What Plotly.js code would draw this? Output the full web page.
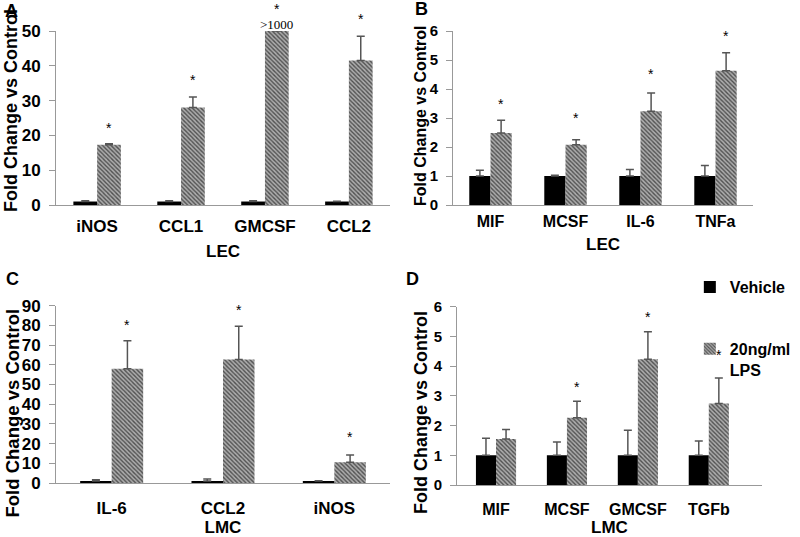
<!DOCTYPE html>
<html>
<head>
<meta charset="utf-8">
<script src="https://cdn.plot.ly/plotly-3.0.1.min.js"></script>
<style>html,body{margin:0;padding:0;background:#fff}#chart{width:800px;height:537px}</style>
</head>
<body>
<div id="chart"></div>
<script>
// Panel A (LEC)
const catsA = ["iNOS", "CCL1", "GMCSF", "CCL2"];
const vehA = [1, 1, 1, 1];
const vehErrA = [0.2, 0.2, 0.2, 0.1];
const lpsA = [17.3, 28, 50, 41.5];
const lpsErrA = [0.3, 3, 0, 7];
const starA = [22, 36, 56.4, 53.5];

// Panel B (LEC)
const catsB = ["MIF", "MCSF", "IL-6", "TNFa"];
const vehB = [1, 1, 1, 1];
const vehErrB = [0.2, 0.03, 0.22, 0.36];
const lpsB = [2.48, 2.08, 3.23, 4.63];
const lpsErrB = [0.44, 0.17, 0.63, 0.62];
const starB = [3.5, 3.0, 4.52, 5.84];

// Panel C (LMC)
const catsC = ["IL-6", "CCL2", "iNOS"];
const vehC = [1, 1, 1];
const vehErrC = [0.6, 1.0, 0.1];
const lpsC = [58, 62.7, 10.5];
const lpsErrC = [14.2, 16.9, 3.7];
const starC = [80.3, 87.8, 23.4];

// Panel D (LMC)
const catsD = ["MIF", "MCSF", "GMCSF", "TGFb"];
const vehD = [1, 1, 1, 1];
const vehErrD = [0.57, 0.45, 0.84, 0.48];
const lpsD = [1.55, 2.26, 4.23, 2.74];
const lpsErrD = [0.32, 0.56, 0.93, 0.86];
const starD = [null, 3.3, 5.64, 4.38];

const seriesNames = ["Vehicle", "20ng/ml<br>LPS"];
const yTitle = "Fold Change vs Control";
const xTitles = ["LEC", "LEC", "LMC", "LMC"];
const gtMarker = ">1000";
const gtMarkerY = 51.8;

const BARGAP = 0.434;
const FONT = "Liberation Sans, Arial, sans-serif";
const errStyle = {color: "#555", thickness: 1.5, width: 4};
const lpsMarker = {color: "#8c8c8c", line: {width: 0},
  pattern: {shape: "\\", fgcolor: "#505050", bgcolor: "#adadad", size: 3, solidity: 0.45}};
const vehMarker = {color: "#000", line: {width: 0}};

const xRanges = [[-0.49, 3.49], [-0.5, 3.5], [-0.5, 2.5], [-0.55, 3.75]];
const yRanges = [[0, 50], [0, 6], [0, 90], [0, 6]];

const panels = [
  {cats: catsA, veh: vehA, vehErr: vehErrA, lps: lpsA, lpsErr: lpsErrA, star: starA, ax: ""},
  {cats: catsB, veh: vehB, vehErr: vehErrB, lps: lpsB, lpsErr: lpsErrB, star: starB, ax: "2"},
  {cats: catsC, veh: vehC, vehErr: vehErrC, lps: lpsC, lpsErr: lpsErrC, star: starC, ax: "3"},
  {cats: catsD, veh: vehD, vehErr: vehErrD, lps: lpsD, lpsErr: lpsErrD, star: starD, ax: "4"}
];

const off = (1 - BARGAP) / 4;
function xFrac(i, k) { const r = xRanges[i]; return (k + off - r[0]) / (r[1] - r[0]); }
function yFrac(i, v) { const r = yRanges[i]; return (v - r[0]) / (r[1] - r[0]); }

const traces = [];
const annotations = [];
panels.forEach((p, i) => {
  const showLeg = (i === 3);
  traces.push({
    type: "bar", x: p.cats, y: p.veh, name: seriesNames[0],
    xaxis: "x" + p.ax, yaxis: "y" + p.ax, marker: vehMarker,
    error_y: Object.assign({type: "data", symmetric: false, array: p.vehErr, arrayminus: p.vehErr.map(() => 0)}, errStyle),
    showlegend: showLeg, legendgroup: "veh"
  });
  traces.push({
    type: "bar", x: p.cats, y: p.lps, name: seriesNames[1],
    xaxis: "x" + p.ax, yaxis: "y" + p.ax, marker: lpsMarker,
    error_y: Object.assign({type: "data", symmetric: false, array: p.lpsErr, arrayminus: p.lpsErr.map(() => 0)}, errStyle),
    showlegend: showLeg, legendgroup: "lps"
  });
  p.star.forEach((s, k) => {
    if (s === null) return;
    annotations.push({
      xref: "x" + p.ax + " domain", yref: "y" + p.ax + " domain", x: xFrac(i, k), y: yFrac(i, s),
      xanchor: "center", yanchor: "middle", borderpad: 0,
      text: "*", showarrow: false, font: {family: FONT, size: 14, color: "#000"}
    });
  });
});
// ">1000" label above GMCSF LPS bar in panel A
annotations.push({xref: "x domain", yref: "y domain", x: xFrac(0, 2), y: yFrac(0, gtMarkerY),
  xanchor: "center", yanchor: "middle", text: gtMarker, borderpad: 0,
  showarrow: false, font: {family: "Liberation Serif, Times New Roman, serif", size: 13, color: "#000"}});

// Panel letters
const letters = [["A", 3, 11], ["B", 413, 9], ["C", 4, 279], ["D", 404, 279]];
letters.forEach(l => annotations.push({
  xref: "paper", yref: "paper", x: l[1] / 800, y: 1 - l[2] / 537, xanchor: "left", yanchor: "middle",
  text: l[0], showarrow: false, font: {family: FONT, size: 18, weight: "bold", color: "#000"}
}));

// Y-axis titles (rotated), placed beside each panel
const yTitlePos = [[11, 111, 18], [420, 116, 16], [11.5, 413, 18.5], [421, 413, 18]];
yTitlePos.forEach(t => annotations.push({
  xref: "paper", yref: "paper", x: t[0] / 800, y: 1 - t[1] / 537, xanchor: "center", yanchor: "middle",
  textangle: -90, text: yTitle, showarrow: false, borderpad: 0,
  font: {family: FONT, size: t[2], weight: "bold", color: "#000"}
}));

function yax(i, domain, dtick, tsize) {
  return {
    domain: domain, range: yRanges[i], dtick: dtick, showgrid: false, zeroline: false,
    showline: true, linecolor: "#999", linewidth: 1, ticks: "outside", ticklen: 6, tickcolor: "#999",
    ticklabelstandoff: 5,
    tickfont: {family: FONT, size: tsize, weight: "bold", color: "#000"},
    fixedrange: true
  };
}
function xax(i, domain, anchor, tsize, lstand, tstand) {
  return {
    domain: domain, range: xRanges[i], type: "category", anchor: anchor, showgrid: false, zeroline: false,
    showline: true, linecolor: "#999", linewidth: 1, ticks: "", ticklabelstandoff: lstand,
    tickfont: {family: FONT, size: tsize, weight: "bold", color: "#000"},
    title: {text: xTitles[i], standoff: tstand, font: {family: FONT, size: 17, weight: "bold", color: "#000"}},
    fixedrange: true
  };
}
const yTopAB = [1 - 205 / 537, 1 - 31 / 537];
const layout = {
  width: 800, height: 537, margin: {l: 0, r: 0, t: 0, b: 0},
  paper_bgcolor: "#fff", plot_bgcolor: "#fff",
  barmode: "group", bargap: BARGAP, bargroupgap: 0,
  font: {family: FONT, color: "#000"},
  xaxis: xax(0, [56 / 800, 390 / 800], "y", 17, 6, 9),
  yaxis: Object.assign(yax(0, yTopAB, 10, 17), {anchor: "x"}),
  xaxis2: xax(1, [453 / 800, 753 / 800], "y2", 16, 2, 8),
  yaxis2: Object.assign(yax(1, yTopAB, 1, 15), {anchor: "x2"}),
  xaxis3: xax(2, [56 / 800, 390 / 800], "y3", 17, 10, 6),
  yaxis3: Object.assign(yax(2, [1 - 483 / 537, 1 - 305.7 / 537], 10, 17), {anchor: "x3"}),
  xaxis4: xax(3, [457 / 800, 762 / 800], "y4", 16, 10, 7),
  yaxis4: Object.assign(yax(3, [1 - 485 / 537, 1 - 306.7 / 537], 1, 15), {anchor: "x4"}),
  annotations: annotations,
  showlegend: true,
  legend: {x: 0.8623, y: 1 - 270 / 537, xanchor: "left", yanchor: "top", tracegroupgap: 38,
    valign: "top", bgcolor: "rgba(0,0,0,0)",
    font: {family: FONT, size: 16, weight: "bold", color: "#000"}}
};
Plotly.newPlot("chart", traces, layout, {staticPlot: true, displayModeBar: false});
</script>
</body>
</html>
